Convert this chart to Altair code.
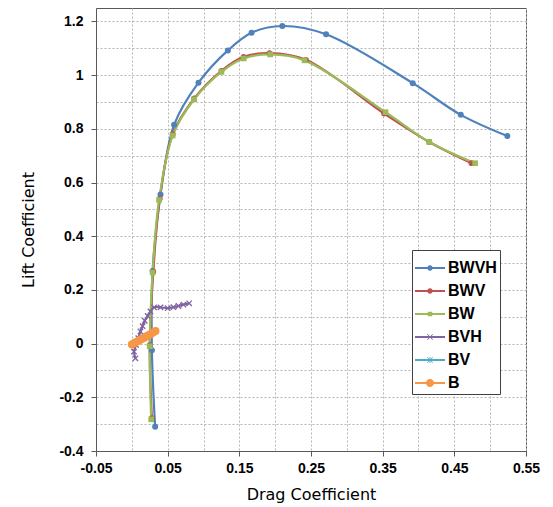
import altair as alt
import pandas as pd

series_names = ["BWVH", "BWV", "BW", "BVH", "BV", "B"]
series_colors = ["#4F81BD", "#C0504D", "#9BBB59", "#8064A2", "#4BACC6", "#F79646"]

bwvh_cd = [0.0325, 0.028, 0.029, 0.040, 0.059, 0.093, 0.134, 0.167, 0.210, 0.271, 0.392, 0.459, 0.524]
bwvh_cl = [-0.31, -0.025, 0.27, 0.555, 0.815, 0.972, 1.092, 1.158, 1.183, 1.152, 0.970, 0.852, 0.773]

bwv_cd = [0.028, 0.025, 0.030, 0.039, 0.057, 0.087, 0.125, 0.156, 0.192, 0.243, 0.352, 0.415, 0.474]
bwv_cl = [-0.278, -0.006, 0.268, 0.54, 0.78, 0.913, 1.016, 1.068, 1.082, 1.057, 0.857, 0.751, 0.672]

bw_cd = [0.027, 0.025, 0.029, 0.038, 0.057, 0.087, 0.125, 0.156, 0.193, 0.241, 0.354, 0.415, 0.479]
bw_cl = [-0.282, -0.01, 0.265, 0.535, 0.775, 0.91, 1.012, 1.062, 1.077, 1.055, 0.862, 0.751, 0.672]

bvh_cd = [0.005, 0.003, 0.006, 0.009, 0.012, 0.015, 0.018, 0.022, 0.026, 0.031, 0.040, 0.050, 0.058, 0.065, 0.072, 0.080]
bvh_cl = [-0.055, -0.03, -0.005, 0.02, 0.045, 0.065, 0.085, 0.103, 0.12, 0.135, 0.135, 0.132, 0.136, 0.140, 0.145, 0.150]

bv_cd = [0.002, 0.008, 0.014, 0.020, 0.026, 0.032]
bv_cl = [0.0, 0.009, 0.018, 0.027, 0.036, 0.046]

b_cd = [0.000, 0.003, 0.006, 0.009, 0.012, 0.015, 0.018, 0.021, 0.024, 0.027, 0.030, 0.033]
b_cl = [-0.003, 0.001, 0.006, 0.010, 0.014, 0.019, 0.023, 0.028, 0.032, 0.037, 0.042, 0.047]

x_grid_values = [-0.05, 0.0, 0.05, 0.1, 0.15, 0.2, 0.25, 0.3, 0.35, 0.4, 0.45, 0.5, 0.55]
y_grid_values = [-0.4, -0.3, -0.2, -0.1, 0.0, 0.1, 0.2, 0.3, 0.4, 0.5, 0.6, 0.7, 0.8, 0.9, 1.0, 1.1, 1.2]

all_series = [
    ("BWVH", bwvh_cd, bwvh_cl),
    ("BWV", bwv_cd, bwv_cl),
    ("BW", bw_cd, bw_cl),
    ("BVH", bvh_cd, bvh_cl),
    ("BV", bv_cd, bv_cl),
    ("B", b_cd, b_cl),
]
rows = []
for name, cds, cls in all_series:
    for i, (a, b) in enumerate(zip(cds, cls)):
        rows.append({"series": name, "idx": i, "cd": a, "cl": b})
df = pd.DataFrame(rows)

# marker shapes in the plot
X_PATH = "M-1,-0.7L-0.7,-1L0,-0.3L0.7,-1L1,-0.7L0.3,0L1,0.7L0.7,1L0,0.3L-0.7,1L-1,0.7L-0.3,0Z"
STAR_PATH = X_PATH + "M-0.15,-1L0.15,-1L0.15,1L-0.15,1Z"
point_shape = {"BWVH": "circle", "BWV": "circle", "BW": "square", "BVH": X_PATH, "BV": STAR_PATH, "B": "circle"}
point_size = {"BWVH": 36, "BWV": 34, "BW": 32, "BVH": 40, "BV": 40, "B": 64}

# legend glyphs: line + marker
LINE = "M-1,-0.07L1,-0.07L1,0.07L-1,0.07Z"
def circ(r):
    return f"M{-r},0A{r},{r} 0 1,1 {r},0A{r},{r} 0 1,1 {-r},0Z"
SQ = "M-0.15,-0.15L0.15,-0.15L0.15,0.15L-0.15,0.15Z"
XS = "M-0.2,-0.16L-0.16,-0.2L0,-0.04L0.16,-0.2L0.2,-0.16L0.04,0L0.2,0.16L0.16,0.2L0,0.04L-0.16,0.2L-0.2,0.16L-0.04,0Z"
VB = "M-0.025,-0.2L0.025,-0.2L0.025,0.2L-0.025,0.2Z"
legend_paths = [LINE + circ(0.18), LINE + circ(0.18), LINE + SQ, LINE + XS, LINE + XS + VB, LINE + circ(0.27)]

x_lab_test = "abs(round(datum.value*100)) % 10 == 5"
y_lab_test = "abs(round(datum.value*10)) % 2 == 0"

x_enc = alt.X(
    "cd:Q",
    scale=alt.Scale(domain=[-0.05, 0.55], nice=False, zero=False),
    axis=alt.Axis(
        title="Drag Coefficient",
        values=x_grid_values,
        labelExpr=f"{x_lab_test} ? replace(format(datum.value, '.2f'), '\u2212', '-') : ''",
        tickOpacity={"condition": {"test": x_lab_test, "value": 1}, "value": 0},
        labelFlush=False,
        labelOverlap=False,
    ),
)
y_enc = alt.Y(
    "cl:Q",
    scale=alt.Scale(domain=[-0.4, 1.25], nice=False, zero=False),
    axis=alt.Axis(
        title="Lift Coefficient",
        values=y_grid_values,
        labelExpr=f"{y_lab_test} ? replace(format(datum.value, '.1~f'), '\u2212', '-') : ''",
        tickOpacity={"condition": {"test": y_lab_test, "value": 1}, "value": 0},
        labelFlush=False,
        labelOverlap=False,
    ),
)

base = alt.Chart(df)
layers = []
for name, color in zip(series_names, series_colors):
    sub = base.transform_filter(alt.datum.series == name)
    layers.append(
        sub.mark_line(interpolate="catmull-rom", strokeWidth=2.2, color=color).encode(
            x=x_enc, y=y_enc, order="idx:Q"
        )
    )
for name, color in zip(series_names, series_colors):
    sub = base.transform_filter(alt.datum.series == name)
    layers.append(
        sub.mark_point(filled=True, opacity=1, color=color, strokeWidth=0,
                       shape=point_shape[name], size=point_size[name]).encode(
            x=x_enc, y=y_enc
        )
    )

leg = alt.Legend(
    title=None, orient="none", legendX=316, legendY=242,
    symbolSize=900, symbolStrokeWidth=0, symbolOpacity=1,
    labelFont="Liberation Sans", labelFontWeight="bold", labelFontSize=16, labelColor="black",
    strokeColor="#404040", fillColor="white", padding=3, rowPadding=0, labelOffset=3,
)
legend_layer = base.transform_filter("false").mark_point(filled=True).encode(
    x=x_enc, y=y_enc,
    color=alt.Color("series:N", scale=alt.Scale(domain=series_names, range=series_colors), legend=leg),
    shape=alt.Shape("series:N", scale=alt.Scale(domain=series_names, range=legend_paths), legend=leg),
)
layers.append(legend_layer)

chart = alt.layer(*layers).properties(
    width=430, height=443,
    padding={"left": 12, "top": 0, "right": 5, "bottom": 5},
    background="white",
).configure_view(
    stroke="#595959", strokeWidth=1,
).configure_axis(
    grid=True, gridColor="#b5b5b5", gridDash=[2, 2], gridWidth=1,
    domainColor="#595959", tickColor="#595959", tickSize=5,
    labelFont="Liberation Sans", labelFontWeight="bold", labelFontSize=14, labelColor="black",
    titleFont="DejaVu Sans", titleFontWeight="normal", titleFontSize=16, titleColor="black",
).configure_axisX(
    labelPadding=5, titlePadding=11,
).configure_axisY(
    labelPadding=8, titlePadding=22,
)

chart.save("out.html", embed_options={"renderer": "svg", "actions": False})
